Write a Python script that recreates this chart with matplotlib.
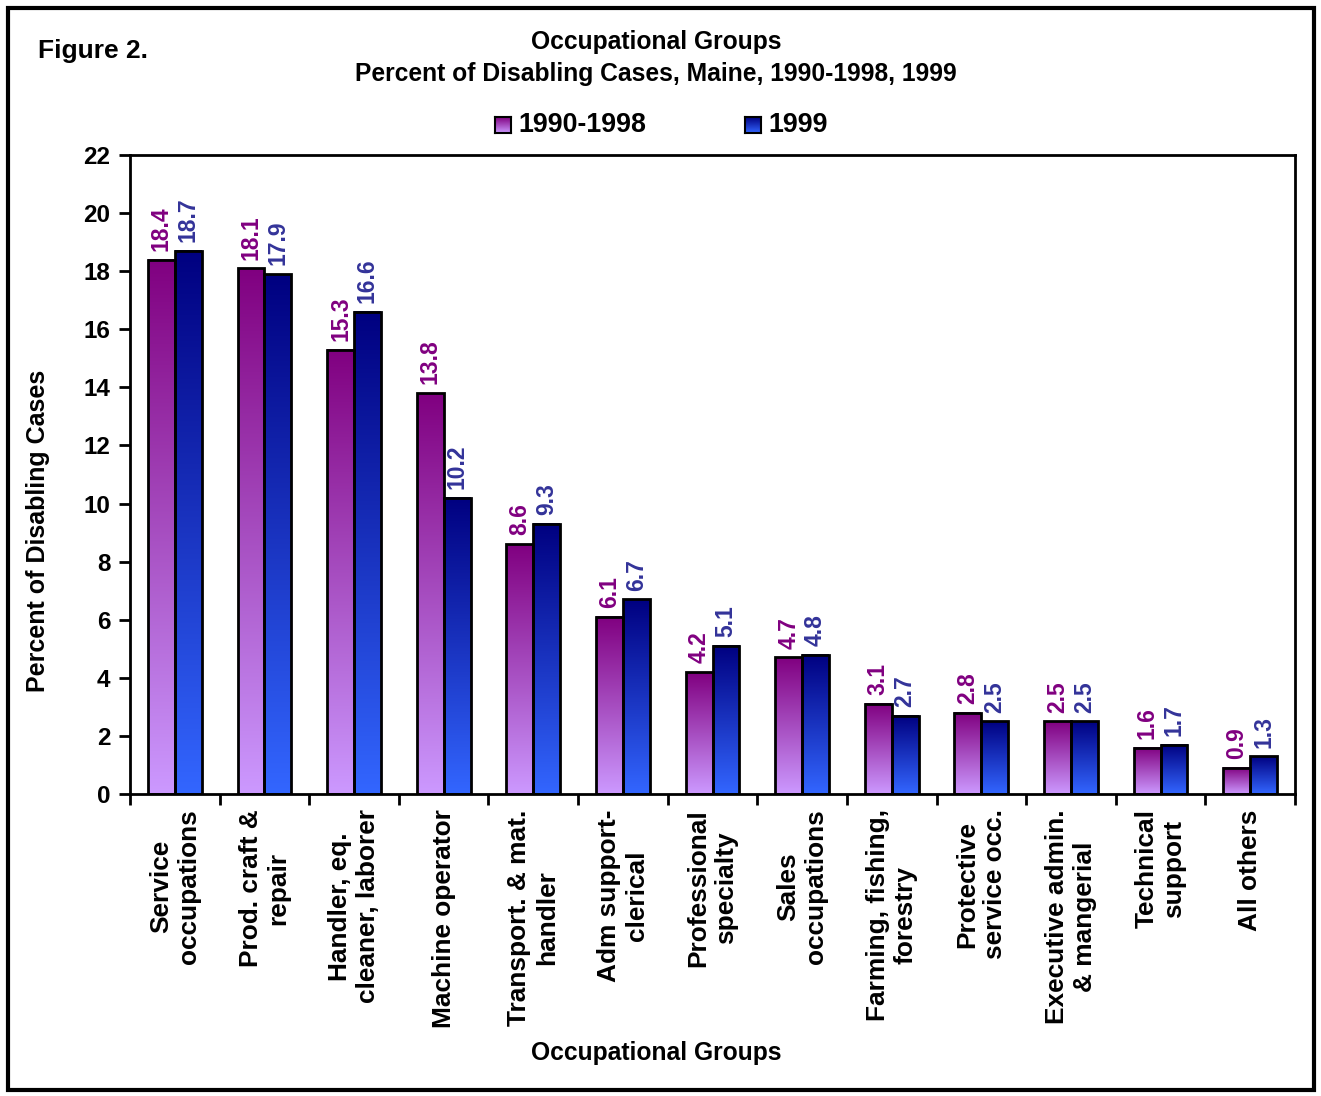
import numpy as np
import matplotlib.pyplot as plt
from matplotlib.colors import LinearSegmentedColormap
from matplotlib.patches import Rectangle

plt.rcParams['font.family'] = ['Liberation Sans', 'DejaVu Sans']
plt.rcParams['font.weight'] = 'bold'

# occupational groups and percent of disabling cases
groups = ['Service\noccupations', 'Prod. craft &\nrepair', 'Handler, eq.\ncleaner, laborer',
          'Machine operator', 'Transport. & mat.\nhandler', 'Adm support-\nclerical',
          'Professional\nspecialty', 'Sales\noccupations', 'Farming, fishing,\nforestry',
          'Protective\nservice occ.', 'Executive admin.\n& mangerial', 'Technical\nsupport',
          'All others']
pct_1990_1998 = [18.4, 18.1, 15.3, 13.8, 8.6, 6.1, 4.2, 4.7, 3.1, 2.8, 2.5, 1.6, 0.9]
pct_1999 = [18.7, 17.9, 16.6, 10.2, 9.3, 6.7, 5.1, 4.8, 2.7, 2.5, 2.5, 1.7, 1.3]
series_names = ['1990-1998', '1999']

# gradients run light at the bottom to dark at the top
cmap_purple = LinearSegmentedColormap.from_list('purp', ['#CC99FF', '#800080'])
cmap_blue = LinearSegmentedColormap.from_list('blu', ['#3366FF', '#000080'])
label_colors = ['#800080', '#333399']
grad = np.linspace(0, 1, 256).reshape(-1, 1)

fig = plt.figure(figsize=(13.21, 10.96), dpi=100)
ax = fig.add_axes([130 / 1321, 1 - 794 / 1096, 1165 / 1321, 639 / 1096])

w = 0.3
x = np.arange(len(groups))
for vals, off, cmap, lc in [(pct_1990_1998, -0.15, cmap_purple, label_colors[0]),
                            (pct_1999, 0.15, cmap_blue, label_colors[1])]:
    for xi, v in zip(x, vals):
        x0 = xi + off - w / 2
        ax.imshow(grad, extent=[x0, x0 + w, 0, v], origin='lower', cmap=cmap,
                  aspect='auto', zorder=2, interpolation='bilinear')
        ax.add_patch(Rectangle((x0, 0), w, v, fill=False, ec='black', lw=2, zorder=3))
        ax.text(xi + off, v + 0.3, f'{v:.1f}', rotation=90, ha='center', va='bottom',
                color=lc, fontsize=16.5, fontweight='bold', zorder=4)

ax.set_xlim(-0.5, len(groups) - 0.5)
ax.set_ylim(0, 22)
ax.set_yticks(np.arange(0, 23, 2))
ax.set_xticks(x)
ax.set_xticklabels(groups, rotation=90, va='top', ha='center', multialignment='center',
                   fontsize=18.9, fontweight='bold')
ax.set_xticks(np.arange(-0.5, len(groups), 1), minor=True)
ax.tick_params(axis='x', which='major', length=0, pad=11)
ax.tick_params(axis='x', which='minor', length=8, width=2, direction='out')
ax.tick_params(axis='y', length=8, width=2, direction='out', labelsize=17.5, pad=6)
for s in ax.spines.values():
    s.set_linewidth(2)

fig.text(38 / 1321, 1 - 531 / 1096, 'Percent of Disabling Cases', rotation=90,
         ha='center', va='center', fontsize=18, fontweight='bold')
fig.text(656 / 1321, 1 - 1053 / 1096, 'Occupational Groups', ha='center', va='center',
         fontsize=17.7, fontweight='bold')

fig.text(656 / 1321, 1 - 42 / 1096, 'Occupational Groups', ha='center', va='center',
         fontsize=17.7, fontweight='bold')
fig.text(656 / 1321, 1 - 74 / 1096, 'Percent of Disabling Cases, Maine, 1990-1998, 1999',
         ha='center', va='center', fontsize=17.7, fontweight='bold')
fig.text(38 / 1321, 1 - 51 / 1096, 'Figure 2.', ha='left', va='center',
         fontsize=19, fontweight='bold')

# legend: small gradient squares with labels
for px, cmap, name in [(495, cmap_purple, series_names[0]), (745, cmap_blue, series_names[1])]:
    lax = fig.add_axes([px / 1321, 1 - 133 / 1096, 16 / 1321, 16 / 1096])
    lax.imshow(grad, origin='lower', cmap=cmap, aspect='auto', extent=[0, 1, 0, 1])
    lax.set_xticks([])
    lax.set_yticks([])
    for s in lax.spines.values():
        s.set_linewidth(1.5)
    fig.text((px + 23) / 1321, 1 - 125 / 1096, name, ha='left', va='center',
             fontsize=19.3, fontweight='bold')

# outer frame
fig.patches.append(Rectangle((8 / 1321, 6 / 1096), 1306 / 1321, 1082 / 1096, fill=False,
                             ec='black', lw=3, transform=fig.transFigure, figure=fig))

fig.savefig('out.png', dpi=100)
